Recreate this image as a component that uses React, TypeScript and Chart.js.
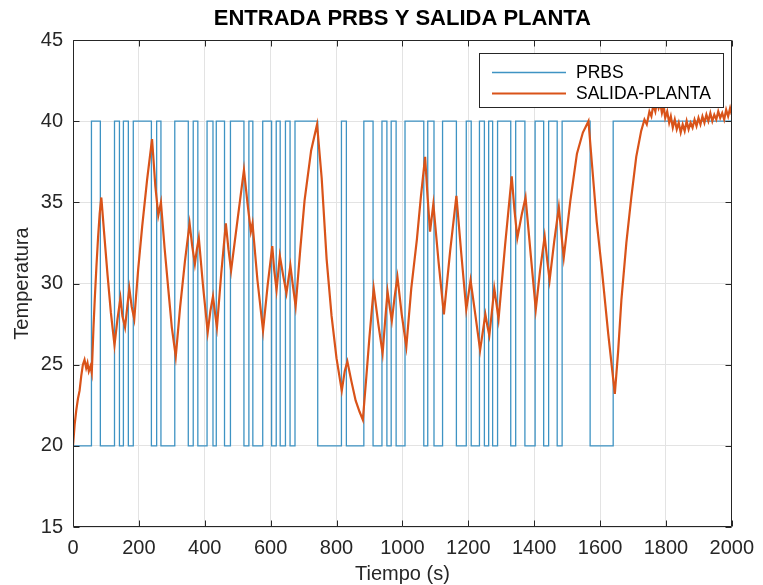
import React, { useEffect, useRef } from "react";
import { Chart, registerables } from "chart.js";

Chart.register(...registerables);

const TITLE = "ENTRADA PRBS Y SALIDA PLANTA";
const X_LABEL = "Tiempo (s)";
const Y_LABEL = "Temperatura";
const SERIES_NAMES = ["PRBS", "SALIDA-PLANTA"];
const SERIES_COLORS = ["#3E93C3", "#D95319"];

const X_TICKS = [0, 200, 400, 600, 800, 1000, 1200, 1400, 1600, 1800, 2000];
const Y_TICKS = [15, 20, 25, 30, 35, 40, 45];

const PRBS_LOW = 20;
const PRBS_HIGH = 40;
const PRBS_END = 2000;
// switching instants (s); level alternates starting low -> high
const PRBS_SWITCH_TIMES = [
  56, 83, 126, 141, 153, 168, 183, 238, 254, 267, 309, 350, 365, 379, 407, 425,
  435, 460, 478, 519, 534, 546, 576, 603, 617, 629, 645, 659, 674, 743, 815, 830,
  883, 911, 938, 953, 966, 981, 1008, 1065, 1077, 1096, 1122, 1164, 1194, 1209,
  1234, 1249, 1262, 1274, 1289, 1329, 1344, 1372, 1403, 1429, 1444, 1470, 1485,
  1570, 1640,
];

const SALIDA_T = [
  0, 5, 10, 15, 20, 25, 30, 35, 40, 44, 48, 53, 57, 62, 66, 71, 76, 81, 86, 95,
  105, 115, 126, 135, 144, 150, 158, 165, 171, 178, 186, 198, 210, 225, 240, 250,
  259, 267, 278, 290, 300, 312, 325, 340, 354, 362, 370, 376, 382, 395, 409, 417,
  425, 431, 437, 450, 464, 472, 480, 500, 519, 530, 540, 545, 560, 577, 591, 605,
  611, 618, 628, 638, 648, 660, 668, 676, 690, 703, 723, 741, 755, 770, 785, 800,
  816, 825, 833, 845, 858, 870, 880, 890, 900, 913, 927, 940, 948, 955, 962, 968,
  976, 985, 998, 1012, 1027, 1044, 1056, 1069, 1077, 1084, 1094, 1110, 1126, 1145,
  1164, 1179, 1194, 1207, 1222, 1236, 1244, 1252, 1258, 1264, 1272, 1279, 1286,
  1292, 1312, 1332, 1340, 1349, 1362, 1374, 1390, 1405, 1418, 1432, 1440, 1447,
  1461, 1475, 1483, 1490, 1510, 1530, 1548, 1565, 1575, 1590, 1605, 1625, 1645,
  1655, 1665, 1680, 1695, 1710, 1725, 1735, 1742, 1750, 1756, 1762, 1768, 1773,
  1778, 1783, 1788, 1793, 1798, 1804, 1810, 1815, 1821, 1827, 1833, 1839, 1845,
  1851, 1857, 1863, 1869, 1875, 1881, 1887, 1893, 1899, 1905, 1911, 1917, 1923,
  1929, 1935, 1941, 1947, 1953, 1959, 1965, 1971, 1977, 1983, 1989, 1995, 2000,
];

const SALIDA_V = [
  20.0, 21.3, 22.2, 22.9, 23.4, 24.3, 25.0, 25.3, 24.8, 25.1, 24.6, 24.9, 24.5,
  27.2, 29.0, 31.0, 32.8, 34.3, 35.3, 33.0, 30.5, 28.2, 26.2, 27.8, 29.1, 28.0,
  27.3, 28.6, 29.7, 28.6, 27.8, 30.9, 33.5, 36.4, 38.9, 36.0, 34.2, 35.0, 32.2,
  29.5, 27.3, 25.5, 28.5, 31.4, 33.7, 32.3, 31.2, 32.1, 32.8, 29.8, 27.0, 28.3,
  29.2, 28.2, 27.3, 30.6, 33.7, 32.1, 30.8, 34.0, 37.0, 34.9, 33.2, 33.7, 30.2,
  27.1, 29.9, 32.3, 30.8, 29.6, 31.7, 30.5, 29.4, 31.1, 29.8, 28.6, 32.1, 35.1,
  38.2, 39.8, 36.5, 31.5, 28.0, 25.4, 23.4, 24.6, 25.2, 24.0, 22.8, 22.1, 21.6,
  24.1, 26.7, 29.7, 27.5, 25.7, 27.8, 29.5, 28.5, 27.7, 29.1, 30.4, 28.1, 26.1,
  29.7, 32.7, 35.3, 37.8, 35.2, 33.2, 34.9, 31.3, 28.1, 32.0, 35.4, 31.8, 28.4,
  30.2, 28.0, 25.9, 27.0, 28.1, 27.4, 26.8, 28.3, 29.7, 28.7, 27.8, 32.4, 36.6,
  34.6, 32.8, 34.2, 35.3, 31.7, 28.4, 30.8, 32.9, 31.4, 30.2, 32.6, 34.7, 33.0,
  31.6, 35.1, 38.0, 39.3, 40.0, 37.5, 33.8, 31.0, 26.9, 23.2, 25.8, 29.0, 32.5,
  35.3, 37.8, 39.4, 40.1, 39.8, 40.6, 40.3, 41.0, 40.6, 41.2, 40.8, 41.1, 40.5,
  40.9, 40.2, 40.6, 39.9, 40.3, 39.6, 40.1, 39.5, 39.9, 39.3, 39.8, 39.4, 40.0,
  39.5, 39.9, 39.6, 40.1, 39.7, 40.2, 39.8, 40.3, 39.9, 40.4, 40.0, 40.5, 40.0,
  40.4, 40.1, 40.6, 40.2, 40.5, 40.1, 40.7, 40.3, 40.8, 40.4,
];

const FONT = '"Liberation Sans", Arial, Helvetica, sans-serif';
const AXIS_COLOR = "#262626";

function buildPrbs() {
  const pts = [{ x: 0, y: PRBS_LOW }];
  PRBS_SWITCH_TIMES.forEach((t, i) => {
    pts.push({ x: t, y: i % 2 === 0 ? PRBS_HIGH : PRBS_LOW });
  });
  const last = pts[pts.length - 1].y;
  pts.push({ x: PRBS_END, y: last });
  return pts;
}

function buildSalida() {
  return SALIDA_T.map((t, i) => ({ x: t, y: SALIDA_V[i] }));
}

const decorPlugin = {
  id: "decor",
  afterDraw(chart: any) {
    const { ctx, chartArea: a, scales } = chart;
    ctx.save();
    // frame
    ctx.strokeStyle = AXIS_COLOR;
    ctx.lineWidth = 1;
    const L = Math.round(a.left) + 0.5;
    const R = Math.round(a.right) - 0.5;
    const T = Math.round(a.top) + 0.5;
    const B = Math.round(a.bottom) - 0.5;
    ctx.beginPath();
    ctx.rect(L, T, R - L, B - T);
    ctx.stroke();
    const tl = 6;
    ctx.beginPath();
    X_TICKS.forEach((v) => {
      const x = Math.round(scales.x.getPixelForValue(v)) + 0.5;
      ctx.moveTo(x, B);
      ctx.lineTo(x, B - tl);
      ctx.moveTo(x, T);
      ctx.lineTo(x, T + tl);
    });
    Y_TICKS.forEach((v) => {
      const y = Math.round(scales.y.getPixelForValue(v)) + 0.5;
      ctx.moveTo(L, y);
      ctx.lineTo(L + tl, y);
      ctx.moveTo(R, y);
      ctx.lineTo(R - tl, y);
    });
    ctx.stroke();

    // title
    ctx.fillStyle = "#000";
    ctx.font = `bold 22px ${FONT}`;
    ctx.textAlign = "center";
    ctx.textBaseline = "middle";
    ctx.fillText(TITLE, (a.left + a.right) / 2, 19);

    // axis titles
    ctx.fillStyle = AXIS_COLOR;
    ctx.font = `20px ${FONT}`;
    ctx.fillText(X_LABEL, (a.left + a.right) / 2, 574);
    ctx.save();
    ctx.translate(22, (a.top + a.bottom) / 2);
    ctx.rotate(-Math.PI / 2);
    ctx.fillText(Y_LABEL, 0, 0);
    ctx.restore();

    // legend
    const bx = 479, by = 53, bw = 244, bh = 54;
    ctx.fillStyle = "#fff";
    ctx.fillRect(bx, by, bw, bh);
    ctx.strokeStyle = AXIS_COLOR;
    ctx.lineWidth = 1;
    ctx.strokeRect(bx + 0.5, by + 0.5, bw, bh);
    const rows = [72, 93];
    ctx.font = `17.5px ${FONT}`;
    ctx.textAlign = "left";
    ctx.textBaseline = "middle";
    SERIES_NAMES.forEach((name, i) => {
      ctx.strokeStyle = SERIES_COLORS[i];
      ctx.lineWidth = i === 0 ? 1.3 : 2;
      ctx.beginPath();
      ctx.moveTo(492, rows[i] + 0.5);
      ctx.lineTo(566, rows[i] + 0.5);
      ctx.stroke();
      ctx.fillStyle = "#000";
      ctx.fillText(name, 576, rows[i] + 1);
    });
    ctx.restore();
  },
};

export default function App() {
  const ref = useRef<HTMLCanvasElement | null>(null);
  useEffect(() => {
    if (!ref.current) return;
    const chart = new Chart(ref.current, {
      type: "line",
      data: {
        datasets: [
          {
            label: SERIES_NAMES[0],
            data: buildPrbs(),
            borderColor: SERIES_COLORS[0],
            borderWidth: 1.3,
            stepped: "before",
            pointRadius: 0,
            fill: false,
            order: 1,
          },
          {
            label: SERIES_NAMES[1],
            data: buildSalida(),
            borderColor: SERIES_COLORS[1],
            borderWidth: 2.2,
            tension: 0,
            pointRadius: 0,
            fill: false,
            order: 0,
          },
        ],
      },
      options: {
        animation: false,
        responsive: true,
        maintainAspectRatio: false,
        parsing: false as any,
        layout: { padding: { left: 0, right: 24, top: 40, bottom: 0 } },
        plugins: {
          legend: { display: false },
          title: { display: false },
          tooltip: { enabled: false },
        },
        scales: {
          x: {
            type: "linear",
            min: 0,
            max: 2000,
            ticks: {
              stepSize: 200,
              color: AXIS_COLOR,
              font: { family: FONT, size: 20 },
              padding: 9,
              maxRotation: 0,
              autoSkip: false,
              callback: (v: any) => String(v),
            },
            grid: { color: "#e3e3e3", drawTicks: false },
            border: { display: false },
            afterFit: (s: any) => {
              s.height = 58;
            },
          },
          y: {
            type: "linear",
            min: 15,
            max: 45,
            ticks: {
              stepSize: 5,
              color: AXIS_COLOR,
              font: { family: FONT, size: 20 },
              padding: 10,
              callback: (v: any) => String(v),
            },
            grid: { color: "#e3e3e3", drawTicks: false },
            border: { display: false },
            afterFit: (s: any) => {
              s.width = 73;
            },
          },
        },
      },
      plugins: [decorPlugin],
    });
    return () => chart.destroy();
  }, []);
  return (
    <div style={{ position: "absolute", left: 0, top: 0, width: 763, height: 585, background: "#fff" }}>
      <canvas ref={ref} />
    </div>
  );
}
